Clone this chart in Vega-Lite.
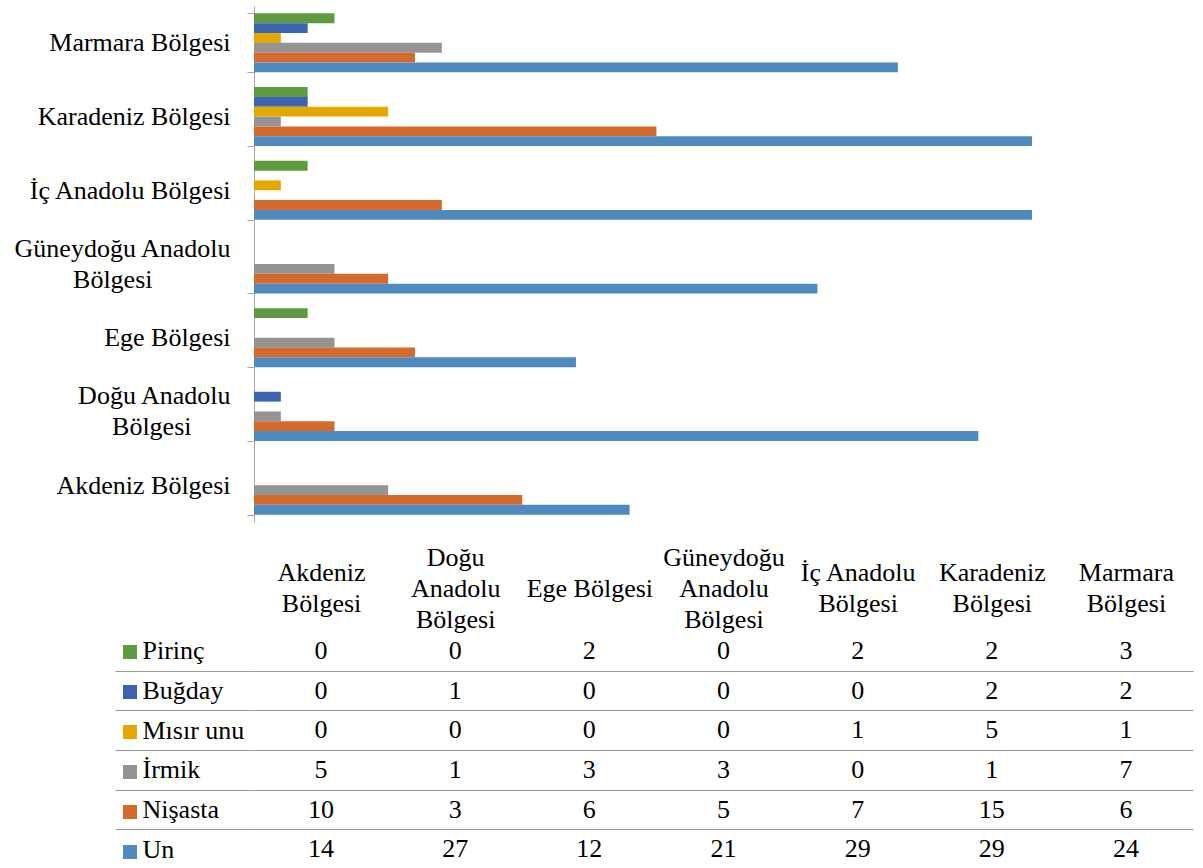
{
  "$schema": "https://vega.github.io/schema/vega-lite/v6.json",
  "autosize": {"type": "pad"},
  "padding": {"left": 12, "top": 6, "right": 10, "bottom": 0},
  "background": "white",
  "config": {
    "view": {"stroke": null},
    "font": "'Liberation Serif', 'Times New Roman', serif",
    "axis": {"labelFont": "'Liberation Serif', 'Times New Roman', serif", "labelFontSize": 26, "labelColor": "black", "labelLimit": 0}
  },
  "datasets": {
    "counts": [
      {"bolge": "Akdeniz Bölgesi", "urun": "Pirinç", "sayi": 0},
      {"bolge": "Doğu Anadolu Bölgesi", "urun": "Pirinç", "sayi": 0},
      {"bolge": "Ege Bölgesi", "urun": "Pirinç", "sayi": 2},
      {"bolge": "Güneydoğu Anadolu Bölgesi", "urun": "Pirinç", "sayi": 0},
      {"bolge": "İç Anadolu Bölgesi", "urun": "Pirinç", "sayi": 2},
      {"bolge": "Karadeniz Bölgesi", "urun": "Pirinç", "sayi": 2},
      {"bolge": "Marmara Bölgesi", "urun": "Pirinç", "sayi": 3},
      {"bolge": "Akdeniz Bölgesi", "urun": "Buğday", "sayi": 0},
      {"bolge": "Doğu Anadolu Bölgesi", "urun": "Buğday", "sayi": 1},
      {"bolge": "Ege Bölgesi", "urun": "Buğday", "sayi": 0},
      {"bolge": "Güneydoğu Anadolu Bölgesi", "urun": "Buğday", "sayi": 0},
      {"bolge": "İç Anadolu Bölgesi", "urun": "Buğday", "sayi": 0},
      {"bolge": "Karadeniz Bölgesi", "urun": "Buğday", "sayi": 2},
      {"bolge": "Marmara Bölgesi", "urun": "Buğday", "sayi": 2},
      {"bolge": "Akdeniz Bölgesi", "urun": "Mısır unu", "sayi": 0},
      {"bolge": "Doğu Anadolu Bölgesi", "urun": "Mısır unu", "sayi": 0},
      {"bolge": "Ege Bölgesi", "urun": "Mısır unu", "sayi": 0},
      {"bolge": "Güneydoğu Anadolu Bölgesi", "urun": "Mısır unu", "sayi": 0},
      {"bolge": "İç Anadolu Bölgesi", "urun": "Mısır unu", "sayi": 1},
      {"bolge": "Karadeniz Bölgesi", "urun": "Mısır unu", "sayi": 5},
      {"bolge": "Marmara Bölgesi", "urun": "Mısır unu", "sayi": 1},
      {"bolge": "Akdeniz Bölgesi", "urun": "İrmik", "sayi": 5},
      {"bolge": "Doğu Anadolu Bölgesi", "urun": "İrmik", "sayi": 1},
      {"bolge": "Ege Bölgesi", "urun": "İrmik", "sayi": 3},
      {"bolge": "Güneydoğu Anadolu Bölgesi", "urun": "İrmik", "sayi": 3},
      {"bolge": "İç Anadolu Bölgesi", "urun": "İrmik", "sayi": 0},
      {"bolge": "Karadeniz Bölgesi", "urun": "İrmik", "sayi": 1},
      {"bolge": "Marmara Bölgesi", "urun": "İrmik", "sayi": 7},
      {"bolge": "Akdeniz Bölgesi", "urun": "Nişasta", "sayi": 10},
      {"bolge": "Doğu Anadolu Bölgesi", "urun": "Nişasta", "sayi": 3},
      {"bolge": "Ege Bölgesi", "urun": "Nişasta", "sayi": 6},
      {"bolge": "Güneydoğu Anadolu Bölgesi", "urun": "Nişasta", "sayi": 5},
      {"bolge": "İç Anadolu Bölgesi", "urun": "Nişasta", "sayi": 7},
      {"bolge": "Karadeniz Bölgesi", "urun": "Nişasta", "sayi": 15},
      {"bolge": "Marmara Bölgesi", "urun": "Nişasta", "sayi": 6},
      {"bolge": "Akdeniz Bölgesi", "urun": "Un", "sayi": 14},
      {"bolge": "Doğu Anadolu Bölgesi", "urun": "Un", "sayi": 27},
      {"bolge": "Ege Bölgesi", "urun": "Un", "sayi": 12},
      {"bolge": "Güneydoğu Anadolu Bölgesi", "urun": "Un", "sayi": 21},
      {"bolge": "İç Anadolu Bölgesi", "urun": "Un", "sayi": 29},
      {"bolge": "Karadeniz Bölgesi", "urun": "Un", "sayi": 29},
      {"bolge": "Marmara Bölgesi", "urun": "Un", "sayi": 24}
    ]
  },
  "bounds": "flush",
  "spacing": 109,
  "vconcat": [
    {
      "width": 939,
      "height": 516,
      "data": {"name": "counts"},
      "mark": {"type": "bar"},
      "encoding": {
        "y": {
          "field": "bolge",
          "type": "nominal",
          "sort": ["Marmara Bölgesi", "Karadeniz Bölgesi", "İç Anadolu Bölgesi", "Güneydoğu Anadolu Bölgesi", "Ege Bölgesi", "Doğu Anadolu Bölgesi", "Akdeniz Bölgesi"],
          "scale": {"paddingInner": 0.2, "paddingOuter": 0.1},
          "axis": {
            "title": null,
            "domainColor": "#a6a6a6",
            "tickColor": "#a6a6a6",
            "tickBand": "extent",
            "tickSize": 7,
            "labelPadding": 17,
            "labelBaseline": "middle",
            "labelLineHeight": 15.5,
            "labelOffset": -15.5,
            "labelFontSize": {"condition": {"test": "isValid(datum.extra)", "value": 0}, "value": 26},
            "labelExpr": "datum.value === 'Güneydoğu Anadolu Bölgesi' ? ['Güneydoğu Anadolu', '\u200b', 'Bölgesi\u00a0\u00a0\u00a0\u00a0\u00a0\u00a0\u00a0\u00a0\u00a0\u00a0\u00a0\u00a0\u200b'] : datum.value === 'Doğu Anadolu Bölgesi' ? ['Doğu Anadolu', '\u200b', 'Bölgesi\u00a0\u00a0\u00a0\u00a0\u00a0\u00a0\u200b'] : ['\u200b', datum.value]"
          }
        },
        "yOffset": {
          "field": "urun",
          "type": "nominal",
          "sort": ["Pirinç", "Buğday", "Mısır unu", "İrmik", "Nişasta", "Un"],
          "scale": {"paddingInner": 0, "paddingOuter": 0}
        },
        "x": {
          "field": "sayi",
          "type": "quantitative",
          "scale": {"domain": [0, 35]},
          "axis": null
        },
        "color": {
          "field": "urun",
          "type": "nominal",
          "scale": {
            "domain": ["Pirinç", "Buğday", "Mısır unu", "İrmik", "Nişasta", "Un"],
            "range": ["#5f9a40", "#3b63ae", "#e3a900", "#949494", "#d46b2c", "#4f8abe"]
          },
          "legend": {
            "orient": "none",
            "legendX": -131,
            "legendY": 639,
            "direction": "vertical",
            "title": null,
            "padding": 0,
            "symbolType": "square",
            "symbolSize": 196,
            "symbolStrokeWidth": 0,
            "symbolOpacity": 1,
            "labelExpr": "''",
            "labelFontSize": 14,
            "rowPadding": 26
          }
        }
      }
    },
    {
      "width": 939,
      "height": 238,
      "data": {"name": "counts"},
      "mark": {"type": "text", "font": "'Liberation Serif', 'Times New Roman', serif", "fontSize": 26, "color": "black", "baseline": "middle"},
      "encoding": {
        "x": {
          "field": "bolge",
          "type": "nominal",
          "sort": ["Akdeniz Bölgesi", "Doğu Anadolu Bölgesi", "Ege Bölgesi", "Güneydoğu Anadolu Bölgesi", "İç Anadolu Bölgesi", "Karadeniz Bölgesi", "Marmara Bölgesi"],
          "scale": {"paddingInner": 0, "paddingOuter": 0},
          "axis": {
            "orient": "top",
            "title": null,
            "domain": false,
            "ticks": false,
            "labelAngle": 0,
            "labelBaseline": "middle",
            "labelPadding": 74,
            "labelLineHeight": 15.5,
            "labelExpr": "datum.value === 'Ege Bölgesi' ? ['\u200b', '\u200b', datum.value] : (datum.value !== 'İç Anadolu Bölgesi' && indexof(datum.value, 'Anadolu') >= 0) ? [replace(datum.value, ' Anadolu Bölgesi', ''), '\u200b', 'Anadolu', '\u200b', 'Bölgesi'] : ['\u200b', replace(datum.value, ' Bölgesi', ''), '\u200b', 'Bölgesi']"
          }
        },
        "y": {
          "field": "urun",
          "type": "nominal",
          "sort": ["Pirinç", "Buğday", "Mısır unu", "İrmik", "Nişasta", "Un"],
          "scale": {"paddingInner": 0, "paddingOuter": 0},
          "axis": {
            "title": null,
            "domain": false,
            "tickBand": "extent",
            "tickSize": 139,
            "tickColor": "#9a9a9a",
            "tickOpacity": {"condition": {"test": "isValid(datum.extra)", "value": 0}, "value": 1},
            "grid": true,
            "gridColor": "#9a9a9a",
            "gridOpacity": {"condition": {"test": "isValid(datum.extra)", "value": 0}, "value": 1},
            "labelFont": "'Liberation Serif', 'Times New Roman', serif",
            "labelFontSize": {"condition": {"test": "isValid(datum.extra)", "value": 0}, "value": 26},
            "labelAlign": "left",
            "labelBaseline": "middle",
            "labelPadding": -27
          }
        },
        "text": {"field": "sayi", "type": "quantitative"}
      }
    }
  ]
}
